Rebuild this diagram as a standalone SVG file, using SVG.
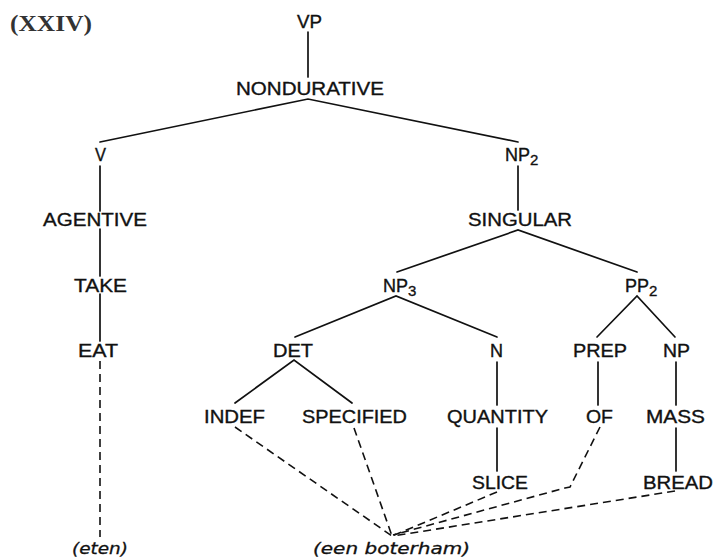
<svg xmlns="http://www.w3.org/2000/svg" width="714" height="560" viewBox="0 0 714 560">
<style>
.l{font-family:"Liberation Sans","DejaVu Sans",sans-serif;font-size:18px;fill:#111;stroke:#111;stroke-width:0.35}
.i{font-family:"DejaVu Sans","Liberation Sans",sans-serif;font-size:16px;font-style:italic;fill:#111;stroke:#111;stroke-width:0.3}
.t{font-family:"Liberation Serif","Times New Roman",serif;font-size:24px;font-weight:bold;fill:#333}
.s{font-size:15px}
.e{stroke:#111;stroke-width:1.7;fill:none;stroke-linecap:round}
.d{stroke:#111;stroke-width:1.6;fill:none;stroke-dasharray:8 5}
</style>
<rect width="714" height="560" fill="#fff"/>
<text class="t" x="10" y="31" textLength="82" lengthAdjust="spacingAndGlyphs">(XXIV)</text>
<g id="connectors">
<path class="e" d="M308,32V77"/>
<path class="e" d="M100,142L308,99L518,142"/>
<path class="e" d="M100,166V211M100,229V276M100,294V341"/>
<path class="e" d="M518,166V210"/>
<path class="e" d="M397,272L518,230L637,272"/>
<path class="e" d="M295,337L396,296L497,337"/>
<path class="e" d="M597,337L637,296L675,337"/>
<path class="e" d="M235,403L294,360L352,403"/>
<path class="e" d="M497,362V405M598,362V405M676,362V405"/>
<path class="e" d="M497,428V471M676,428V471"/>
<path class="d" d="M100,361V537"/>
<path class="d" d="M235,427L392,536"/>
<path class="d" d="M354,428L392,536"/>
<path class="d" d="M497,492L392,536"/>
<path class="d" d="M600,427L570,487L565,488L393,535"/>
<path class="d" d="M675,491L393,536"/>
</g>
<g id="VP"><text class="l" x="297" y="28" textLength="25" lengthAdjust="spacingAndGlyphs">VP</text></g>
<g id="NONDURATIVE"><text class="l" x="236" y="95" textLength="148" lengthAdjust="spacingAndGlyphs">NONDURATIVE</text></g>
<g id="V"><text class="l" x="95" y="161" textLength="11" lengthAdjust="spacingAndGlyphs">V</text></g>
<g id="NP2"><text class="l" x="505" y="161">NP<tspan class="s" dy="4">2</tspan></text></g>
<g id="AGENTIVE"><text class="l" x="43" y="226" textLength="104" lengthAdjust="spacingAndGlyphs">AGENTIVE</text></g>
<g id="SINGULAR"><text class="l" x="468" y="226" textLength="104" lengthAdjust="spacingAndGlyphs">SINGULAR</text></g>
<g id="TAKE"><text class="l" x="74" y="292" textLength="53" lengthAdjust="spacingAndGlyphs">TAKE</text></g>
<g id="NP3"><text class="l" x="383" y="292">NP<tspan class="s" dy="4">3</tspan></text></g>
<g id="PP2"><text class="l" x="625" y="292">PP<tspan class="s" dy="4">2</tspan></text></g>
<g id="EAT"><text class="l" x="78" y="357" textLength="40" lengthAdjust="spacingAndGlyphs">EAT</text></g>
<g id="DET"><text class="l" x="273" y="357" textLength="40" lengthAdjust="spacingAndGlyphs">DET</text></g>
<g id="N"><text class="l" x="490" y="357" textLength="13" lengthAdjust="spacingAndGlyphs">N</text></g>
<g id="PREP"><text class="l" x="573" y="357" textLength="54" lengthAdjust="spacingAndGlyphs">PREP</text></g>
<g id="NP"><text class="l" x="663" y="357" textLength="27" lengthAdjust="spacingAndGlyphs">NP</text></g>
<g id="INDEF"><text class="l" x="204" y="423" textLength="61" lengthAdjust="spacingAndGlyphs">INDEF</text></g>
<g id="SPECIFIED"><text class="l" x="302" y="423" textLength="105" lengthAdjust="spacingAndGlyphs">SPECIFIED</text></g>
<g id="QUANTITY"><text class="l" x="447" y="423" textLength="101" lengthAdjust="spacingAndGlyphs">QUANTITY</text></g>
<g id="OF"><text class="l" x="586" y="423" textLength="27" lengthAdjust="spacingAndGlyphs">OF</text></g>
<g id="MASS"><text class="l" x="646" y="423" textLength="59" lengthAdjust="spacingAndGlyphs">MASS</text></g>
<g id="SLICE"><text class="l" x="472" y="489" textLength="56" lengthAdjust="spacingAndGlyphs">SLICE</text></g>
<g id="BREAD"><text class="l" x="643" y="489" textLength="70" lengthAdjust="spacingAndGlyphs">BREAD</text></g>
<g id="eten"><text class="i" x="72" y="554" textLength="56" lengthAdjust="spacingAndGlyphs">(eten)</text></g>
<g id="een-boterham"><text class="i" x="313" y="554" textLength="157" lengthAdjust="spacingAndGlyphs">(een boterham)</text></g>
</svg>
